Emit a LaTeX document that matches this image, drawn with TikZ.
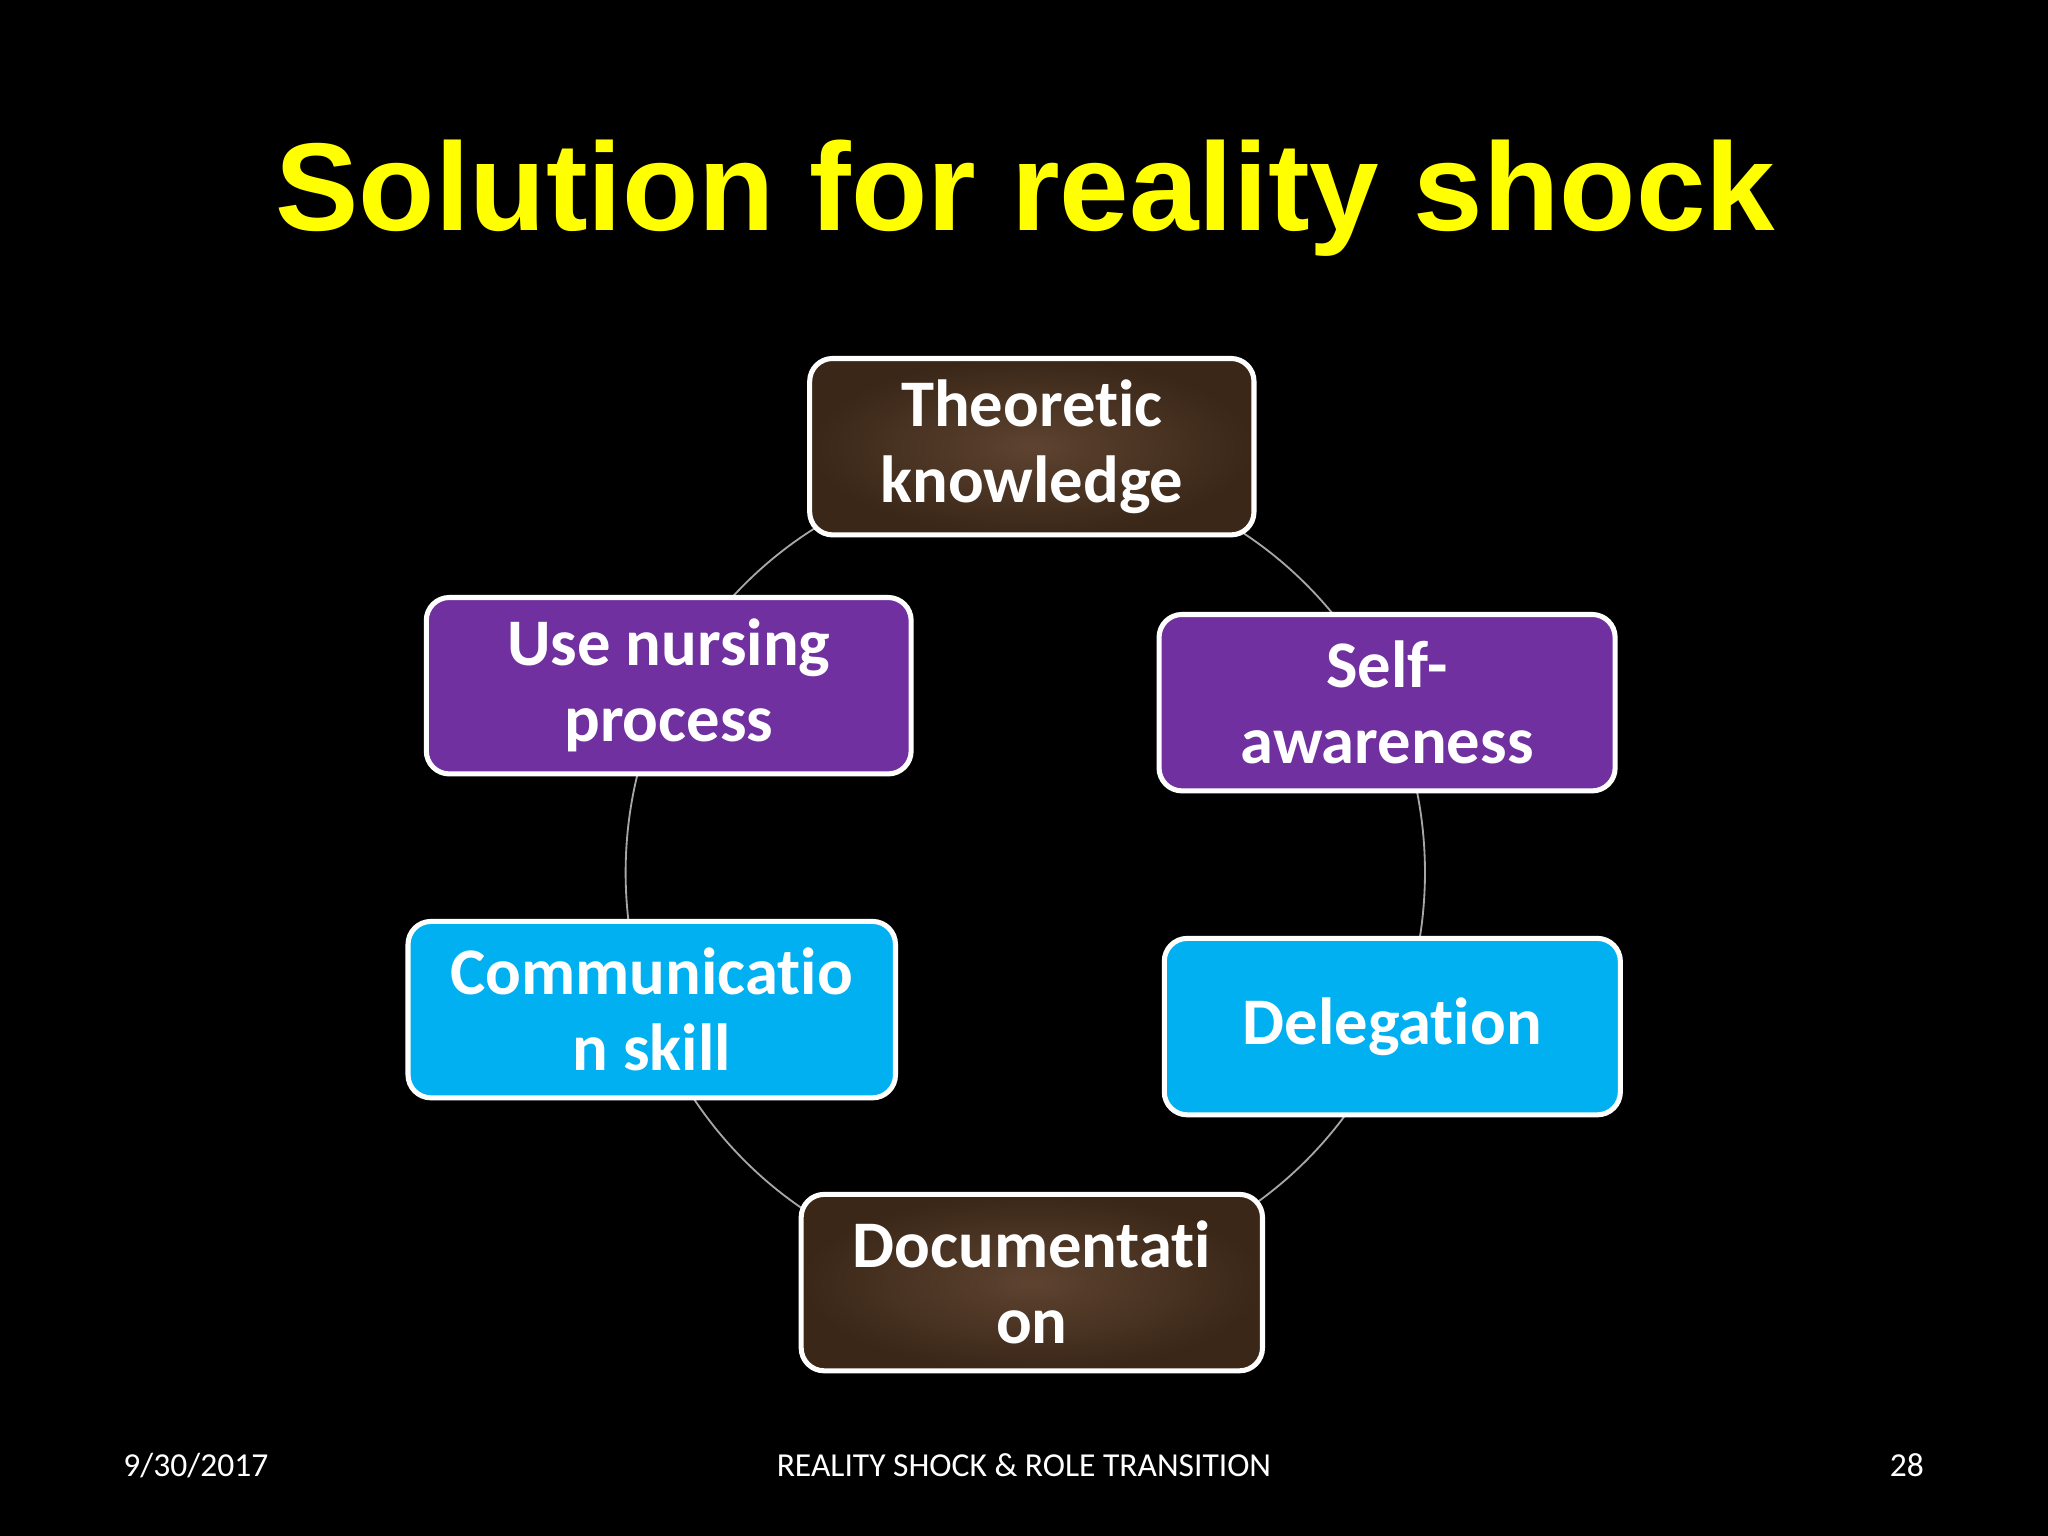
\documentclass[tikz,border=0pt]{standalone}
\usepackage{fontspec}
\setmainfont[Ligatures=NoCommon]{Carlito}
\newfontfamily\titlefont{Liberation Sans}
\definecolor{purp}{HTML}{7030A0}
\definecolor{cyanb}{HTML}{00B0F0}
\definecolor{browna}{HTML}{5E4330}
\definecolor{brownb}{HTML}{3A2718}
\definecolor{titley}{HTML}{FFFF00}
\tikzset{
 bx/.style={draw=white,line width=1.1pt,rounded corners=5pt,minimum width=#1,minimum height=1.35cm,align=center,text=white,font=\bfseries\fontsize{14.5}{16.5}\selectfont,inner sep=2pt},
 bx/.default=3.5cm,
 brn/.style={inner color=browna,outer color=brownb},
 pur/.style={fill=purp},
 cy/.style={fill=cyanb},
 foot/.style={text=white,font=\fontsize{7.3}{8}\selectfont}
}
\begin{document}
\begin{tikzpicture}[x=0.01cm,y=-0.01cm]
\fill[black] (0,0) rectangle (1568,1176);
\useasboundingbox (0,0) rectangle (1568,1176);
\node[text=titley,font=\titlefont\bfseries\fontsize{27.2}{31}\selectfont] (title) at (785,152) {Solution for reality shock};
\draw[gray!70,line width=0.4pt] (785,668) ellipse (306 and 310);
\node[bx=3.4cm,brn] (a) at (790,342) {Theoretic\\knowledge};
\node[bx=3.49cm,pur] (b) at (1062,538) {Self-\\awareness};
\node[bx=3.49cm,cy] (c) at (1066,786) {Delegation};
\node[bx=3.53cm,brn] (d) at (790,982) {Documentati\\on};
\node[bx=3.73cm,cy] (e) at (499,773) {Communicatio\\n skill};
\node[bx=3.71cm,pur] (f) at (512,525) {Use nursing\\process};
\node[foot] (f1) at (150,1122) {9/30/2017};
\node[foot] (f2) at (784,1122) {REALITY SHOCK \& ROLE TRANSITION};
\node[foot] (f3) at (1460,1122) {28};
\end{tikzpicture}
\end{document}
